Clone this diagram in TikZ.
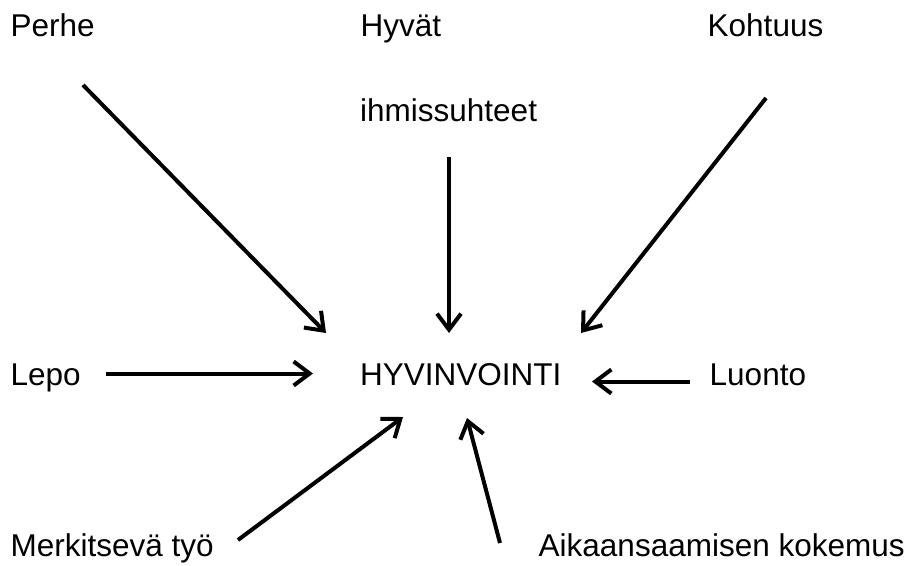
\documentclass[tikz,border=0pt]{standalone}
\usepackage{fontspec}
\setmainfont{Liberation Sans}
\usetikzlibrary{arrows.meta}
\begin{document}
\begin{tikzpicture}[x=1pt,y=-1pt,
  lbl/.style={anchor=base west,inner sep=0pt,font=\fontsize{31.5}{36}\selectfont},
  arr/.style={line width=4pt,-{Straight Barb[length=16pt,width=24pt]}}]
\useasboundingbox (0,0) rectangle (907,565);
\node[lbl] (perhe) at (10.5,36) {Perhe};
\node[lbl] (hyvat) at (360.5,36) {Hyvät};
\node[lbl] (kohtuus) at (707.5,36) {Kohtuus};
\node[lbl] (ihmis) at (360,121) {ihmissuhteet};
\node[lbl] (lepo) at (10.5,385) {Lepo};
\node[lbl] (hyv) at (360,385) {HYVINVOINTI};
\node[lbl] (luonto) at (709.5,385) {Luonto};
\node[lbl] (merk) at (10.5,556.5) {Merkitsevä työ};
\node[lbl] (aik) at (538.5,556.5) {Aikaansaamisen kokemus};
\coordinate (a1s) at (83,85);  \coordinate (a1e) at (326,333);
\coordinate (a2s) at (449,157); \coordinate (a2e) at (449,333);
\coordinate (a3s) at (766,98); \coordinate (a3e) at (581,333);
\coordinate (a4s) at (106,373.5); \coordinate (a4e) at (313,373.5);
\coordinate (a5s) at (690,381.5); \coordinate (a5e) at (592,381.5);
\coordinate (a6s) at (238,540); \coordinate (a6e) at (403,417);
\coordinate (a7s) at (500,543); \coordinate (a7e) at (467,418);
\draw[arr] (a1s) -- (a1e);
\draw[arr] (a2s) -- (a2e);
\draw[arr] (a3s) -- (a3e);
\draw[arr] (a4s) -- (a4e);
\draw[arr] (a5s) -- (a5e);
\draw[arr] (a6s) -- (a6e);
\draw[arr] (a7s) -- (a7e);
\end{tikzpicture}
\end{document}
